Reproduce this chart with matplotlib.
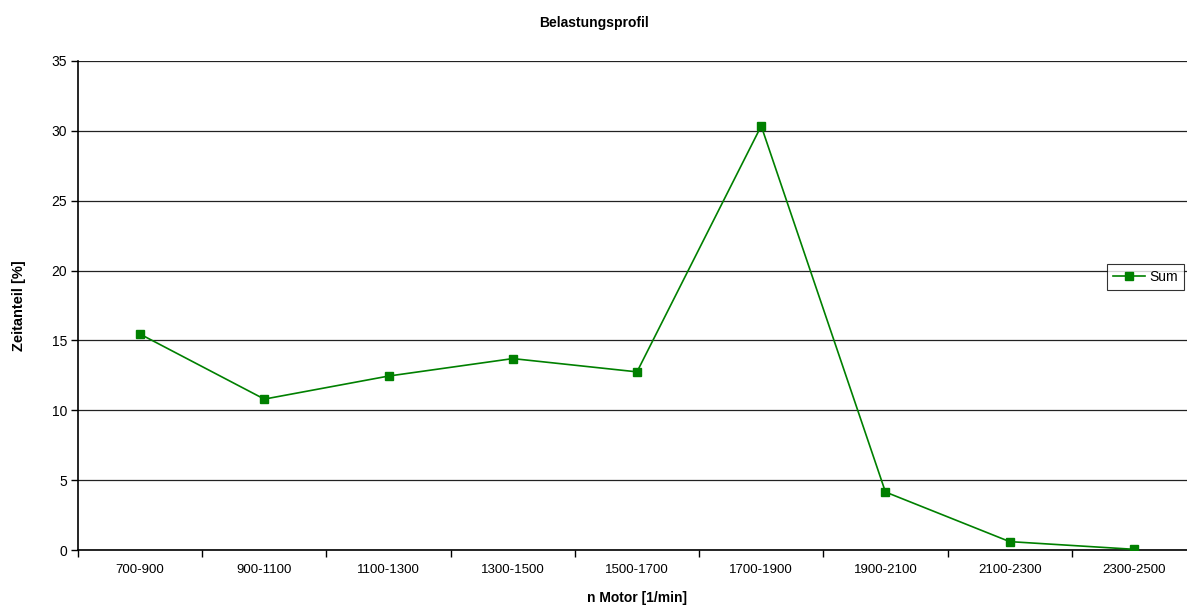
import matplotlib.pyplot as plt
from matplotlib.ticker import FixedLocator, MultipleLocator

plt.rcParams['font.family'] = ['Liberation Sans', 'DejaVu Sans']

# speed ranges and time share per range
categories = ['700-900', '900-1100', '1100-1300', '1300-1500', '1500-1700',
              '1700-1900', '1900-2100', '2100-2300', '2300-2500']
zeitanteil = [15.45, 10.8, 12.45, 13.7, 12.75, 30.35, 4.15, 0.6, 0.05]

fig = plt.figure(figsize=(11.87, 6.06), dpi=100)
# plot area runs a little past the right edge, as in the original
ax = fig.add_axes([78 / 1187, 56 / 606, 1118 / 1187, 489 / 606])

x = list(range(len(categories)))
ax.plot(x, zeitanteil, color='#008000', linewidth=1.2, marker='s',
        markersize=5.5, label='Sum', zorder=3)

ax.set_xlim(-0.5, len(categories) - 0.5)
ax.set_ylim(0, 35)
ax.yaxis.set_major_locator(MultipleLocator(5))
ax.grid(axis='y', color='#222222', linewidth=0.9)
ax.set_axisbelow(True)

ax.set_xticks(x)
ax.set_xticklabels(categories)
ax.xaxis.set_minor_locator(FixedLocator([i - 0.5 for i in range(len(categories) + 1)]))
ax.tick_params(axis='x', which='major', length=0, pad=10, labelsize=9.5)
ax.tick_params(axis='x', which='minor', length=5, width=1, direction='out')
ax.tick_params(axis='y', length=5, width=1, direction='out', labelsize=10, pad=3)

for side in ['top', 'right']:
    ax.spines[side].set_visible(False)
for side in ['left', 'bottom']:
    ax.spines[side].set_linewidth(1.2)

ax.set_xlabel('n Motor [1/min]', fontsize=10, fontweight='bold', labelpad=11)
ax.set_ylabel('Zeitanteil [%]', fontsize=10.5, fontweight='bold', labelpad=18)
fig.text(0.5, 0.962, 'Belastungsprofil', ha='center', va='center',
         fontsize=10, fontweight='bold')

leg = fig.legend(loc='center left', bbox_to_anchor=(1107 / 1187, 1 - 277 / 606),
                 fontsize=10, frameon=True, fancybox=False, edgecolor='black',
                 handlelength=2.3, borderpad=0.45, handletextpad=0.3,
                 borderaxespad=0)
leg.get_frame().set_linewidth(0.8)

fig.savefig('out.png', dpi=100)
